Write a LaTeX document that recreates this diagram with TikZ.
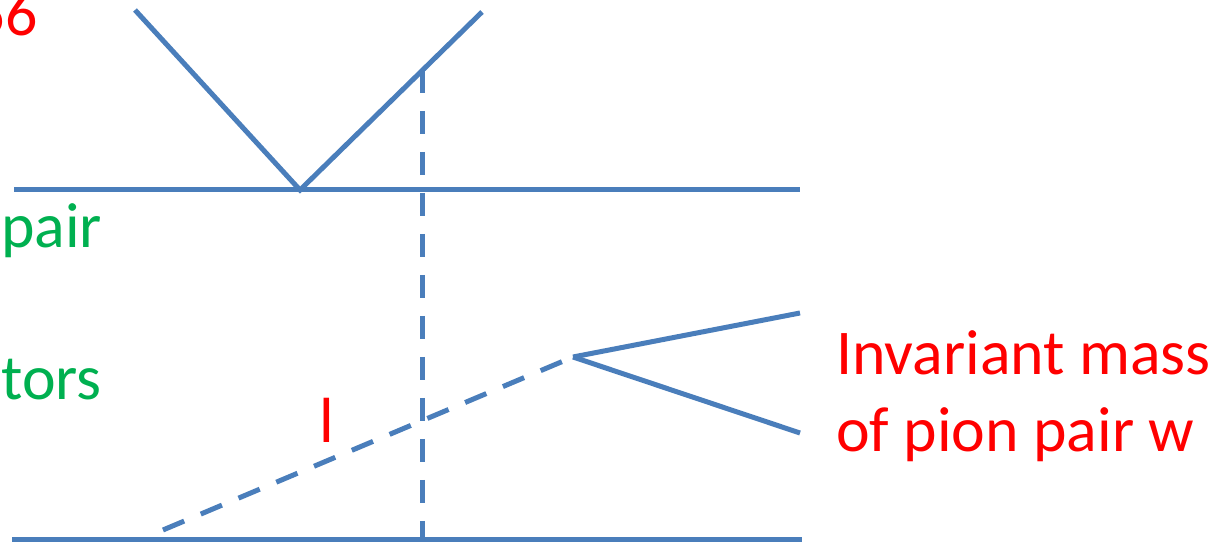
\documentclass[tikz,border=0pt]{standalone}
\usepackage{fontspec}
\setmainfont{Carlito}
\definecolor{lnblue}{RGB}{74,126,187}
\definecolor{txred}{RGB}{255,0,0}
\definecolor{txgreen}{RGB}{0,176,80}
\usetikzlibrary{positioning}
\tikzset{
  track/.style={lnblue, line width=0.1cm},
  dtrack/.style={lnblue, line width=0.1cm, dash pattern=on 0.46cm off 0.36cm},
  redlbl/.style={text=txred, font=\fontsize{36.3}{43}\selectfont, inner sep=0pt},
  greenlbl/.style={text=txgreen, font=\fontsize{36.3}{43}\selectfont, inner sep=0pt}
}
\begin{document}
\begin{tikzpicture}[x=0.02cm, y=-0.02cm]
  \useasboundingbox (0,0) rectangle (1230,543);

  % vertices
  \coordinate (tl) at (14,190);
  \coordinate (tr) at (800,190);
  \coordinate (bl) at (12,539);
  \coordinate (br) at (802,539);
  \coordinate (vleft) at (135,10);
  \coordinate (vtip) at (300,190);
  \coordinate (vright) at (482,12);
  \coordinate (dtop) at (422,70);
  \coordinate (dbot) at (422,539);
  \coordinate (pstart) at (163,530);
  \coordinate (decay) at (573,357);
  \coordinate (pionA) at (800,313);
  \coordinate (pionB) at (800,433);

  % planes
  \draw[track] (tl) -- (tr);
  \draw[track] (bl) -- (br);

  % V and decay
  \draw[track, line join=miter] (vleft) -- (vtip) -- (vright);
  \draw[dtrack] (dtop) -- (dbot);
  \draw[dtrack] (pstart) -- (decay);
  \draw[track] (decay) -- (pionA);
  \draw[track] (decay) -- (pionB);

  % labels
  \node[redlbl, anchor=base east] (sixsix) at (38,36) {66};
  \node[greenlbl, anchor=base west] (pair) at (1,248) {pair};
  \node[greenlbl, anchor=base west] (tors) at (1,400) {tors};
  \node[redlbl, anchor=base] (ell) at (327,442) {l};
  \node[redlbl, anchor=base west] (inv1) at (836,375) {Invariant mass};
  \node[redlbl, anchor=base west] (inv2) at (836,452) {of pion pair w};
\end{tikzpicture}
\end{document}
